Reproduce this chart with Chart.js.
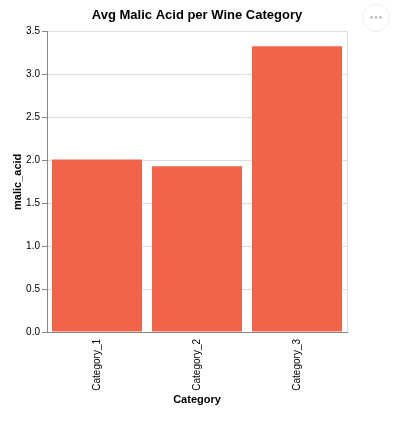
<!DOCTYPE html>
<html lang="en">
<head>
  <meta charset="UTF-8" />
  <title>Avg Malic Acid per Wine Category</title>
  <script src="https://cdn.jsdelivr.net/npm/chart.js"></script>
  <style>
    html, body { margin: 0; padding: 0; background: #fff; }
    #wrap { position: relative; width: 418px; height: 431px; }
    #menu {
      position: absolute; left: 362px; top: 4px;
      width: 28px; height: 28px; border-radius: 50%;
      border: 1px solid #eee; box-sizing: border-box;
      color: #c4c4c4; font: bold 10px "Liberation Sans", Arial, sans-serif;
      text-align: center; line-height: 25px; letter-spacing: 1px; padding-left: 1px;
    }
  </style>
</head>
<body>
  <div id="wrap">
    <canvas id="myChart" width="418" height="431"></canvas>
    <div id="menu">&bull;&bull;&bull;</div>
  </div>

  <script>
    const categories = ['Category_1', 'Category_2', 'Category_3'];
    const malicAcid = [2.01, 1.93, 3.33];
    const yTicks = [0, 0.5, 1, 1.5, 2, 2.5, 3, 3.5];

    const font = "'Liberation Sans', Arial, sans-serif";

    const ctx = document.getElementById('myChart').getContext('2d');
    const chart = new Chart(ctx, {
      type: 'bar',
      data: {
        labels: categories,
        datasets: [{
          label: 'malic_acid',
          data: malicAcid,
          backgroundColor: '#f26449',
          barPercentage: 0.9,
          categoryPercentage: 1.0
        }]
      },
      options: {
        animation: false,
        responsive: false,
        layout: { padding: { left: 7, right: 71, top: 0, bottom: 20 } },
        plugins: {
          legend: { display: false },
          tooltip: { enabled: false },
          title: {
            display: true,
            fullSize: false,
            text: 'Avg Malic Acid per Wine Category',
            color: '#000',
            font: { family: font, size: 13, weight: 'bold' },
            padding: { top: 8, bottom: 8 }
          }
        },
        scales: {
          x: {
            afterFit: (s) => { s.height = 79; },
            grid: { display: false, drawTicks: true, tickLength: 5, tickColor: '#888' },
            border: { color: '#888' },
            ticks: {
              color: '#000', minRotation: 90, maxRotation: 90, padding: 2,
              font: { family: font, size: 10 }
            },
            title: {
              display: true, text: 'Category', color: '#000',
              font: { family: font, size: 11, weight: 'bold' },
              padding: { top: 4, bottom: 4 }
            }
          },
          y: {
            min: 0,
            max: 3.5,
            afterFit: (s) => { s.width = 40; },
            afterBuildTicks: (s) => { s.ticks = yTicks.map(v => ({ value: v })); },
            grid: { color: '#ddd', tickColor: '#888', tickLength: 5 },
            border: { color: '#888' },
            ticks: {
              color: '#000', padding: 2,
              font: { family: font, size: 10 },
              callback: (v) => Number(v).toFixed(1)
            },
            title: {
              display: true, text: 'malic_acid', color: '#000',
              font: { family: font, size: 11, weight: 'bold' },
              padding: { top: 4, bottom: 4 }
            }
          }
        }
      },
      plugins: [{
        id: 'rightBorder',
        afterDraw(c) {
          const a = c.chartArea, g = c.ctx;
          g.save();
          g.strokeStyle = '#ddd';
          g.lineWidth = 1;
          g.beginPath();
          g.moveTo(Math.round(a.right) + 0.5, a.top);
          g.lineTo(Math.round(a.right) + 0.5, a.bottom);
          g.stroke();
          g.restore();
        }
      }]
    });
  </script>
</body>
</html>
